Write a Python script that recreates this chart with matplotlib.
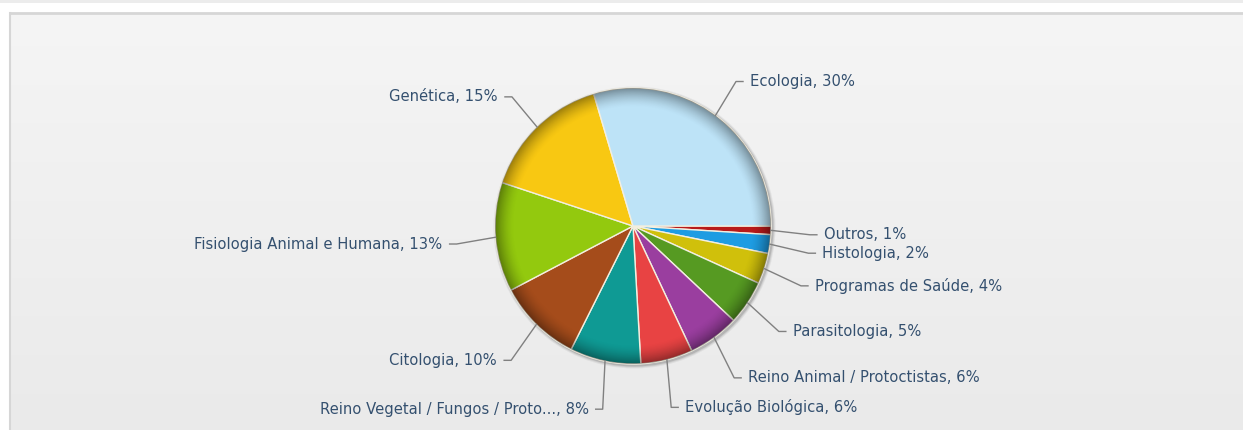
import numpy as np
import matplotlib
matplotlib.use("Agg")
import matplotlib.pyplot as plt
from matplotlib.patches import Circle, Rectangle

# ---- data (clockwise from 3 o'clock) ----
categories = ['Outros', 'Histologia', 'Programas de Saúde', 'Parasitologia',
              'Reino Animal / Protoctistas', 'Evolução Biológica',
              'Reino Vegetal / Fungos / Proto...', 'Citologia',
              'Fisiologia Animal e Humana', 'Genética', 'Ecologia']
values = [1.0, 2.2, 3.6, 5.2, 6.0, 6.1, 8.3, 9.9, 12.8, 15.3, 29.6]
colors = ['#b81a1a', '#1e9ce2', '#d0c00b', '#569a22', '#9a3e9f', '#e84343',
          '#0f9a94', '#a54c1b', '#93c90e', '#f8c812', '#bde3f7']

W, H = 1243, 430
fig = plt.figure(figsize=(W / 100, H / 100), dpi=100)
fig.patch.set_facecolor('white')
ax = fig.add_axes([0, 0, 1, 1])
ax.axis('off')

# ---- page background ----
ax.add_patch(Rectangle((0, H - 3), W, 3, color='#ececec', lw=0, zorder=0))
grad = np.linspace(0, 1, 200)[:, None]
top = np.array([0.960, 0.960, 0.960])
bot = np.array([0.918, 0.918, 0.918])
img = top[None, None, :] * (1 - grad[..., None]) + bot[None, None, :] * grad[..., None]
ax.imshow(img, extent=(11, W, 0, H - 14), aspect='auto', zorder=0.5, origin='upper')
ax.plot([10, W], [H - 13, H - 13], color='#d6d6d6', lw=2, zorder=1, solid_capstyle='butt')
ax.plot([10.5, 10.5], [0, H - 13], color='#d6d6d6', lw=1.5, zorder=1)

# ---- pie ----
cx, cy, r = 633, 204, 138

# shadow
for k, a in zip([3, 2, 1], [0.05, 0.08, 0.12]):
    ax.add_patch(Circle((cx + 1.5, cy - 1.5), r + k, color='black', alpha=a, lw=0, zorder=2))

wedges, _ = ax.pie(values, colors=colors, startangle=0, counterclock=False,
                   center=(cx, cy), radius=r,
                   wedgeprops=dict(edgecolor='#f3efe0', linewidth=1.0))
for w in wedges:
    w.set_zorder(3)

# rim shading (3D look)
n = 400
xs = np.linspace(-1, 1, n)
X, Y = np.meshgrid(xs, xs)
D = np.sqrt(X ** 2 + Y ** 2)
alpha = np.clip((D - 0.86) / 0.14, 0, 1) ** 1.6 * 0.38
shade = np.zeros((n, n, 4))
shade[..., 3] = alpha
im = ax.imshow(shade, extent=(cx - r, cx + r, cy - r, cy + r), zorder=4, origin='lower')
im.set_clip_path(Circle((cx, cy), r, transform=ax.transData))

# ---- labels and connectors ----
R_lab = 184
lab_dy = -3
txt_color = '#34506f'
for w, name, v in zip(wedges, categories, values):
    mid = np.deg2rad((w.theta1 + w.theta2) / 2)
    c, s = np.cos(mid), np.sin(mid)
    side = 1 if c >= 0 else -1
    ex, ey = cx + r * c, cy + r * s
    lx, ly = cx + R_lab * c, cy + R_lab * s + lab_dy
    ax.plot([ex, lx - side * 7, lx], [ey, ly, ly], color='#808080', lw=1, zorder=5)
    ax.text(lx + side * 7, ly, f"{name}, {round(v):.0f}%", color=txt_color,
            fontsize=10.6, family='DejaVu Sans',
            ha='left' if side > 0 else 'right', va='center', zorder=6)

ax.set_xlim(0, W)
ax.set_ylim(0, H)
ax.set_aspect('equal')
fig.savefig('out.png', dpi=100, facecolor='white')
